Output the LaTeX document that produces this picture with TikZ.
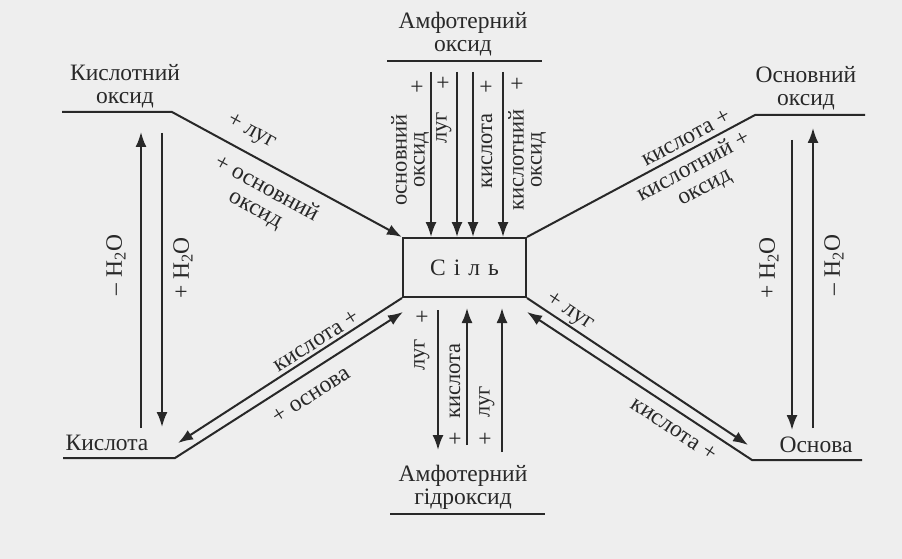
\documentclass[tikz,border=0pt]{standalone}
\usepackage{fontspec}
\setmainfont{Liberation Serif}
\usetikzlibrary{arrows.meta}
\usetikzlibrary{positioning}
\definecolor{ink}{RGB}{40,40,40}
\definecolor{paper}{RGB}{238,238,238}
\tikzset{
  ln/.style={draw=ink,line width=2pt},
  arr/.style={ln,-{Latex[length=15pt,width=11pt]}},
  txt/.style={font=\fontsize{23.5}{23}\selectfont,text=ink,inner sep=0pt,align=center},
  rtxt/.style={txt,font=\fontsize{22.5}{18}\selectfont},
}
\begin{document}
\begin{tikzpicture}[x=1pt,y=-1pt]
\fill[paper] (0,0) rectangle (902,559);
\useasboundingbox (0,0) rectangle (902,559);

% substances
\node[txt] (amfox) at (463,34) {Амфотерний\\оксид};
\node[txt] (kox) at (125,86) {Кислотний\\оксид};
\node[txt] (oox) at (806,88) {Основний\\оксид};
\node[txt] (acid) at (107,443) {Кислота};
\node[txt] (base) at (816,445) {Основа};
\node[txt] (amfhyd) at (463,487) {Амфотерний\\гідроксид};
\node[txt,ln,minimum width=123pt,minimum height=59pt] (salt) at (464.5,267.5) {С\hspace{8pt}і\hspace{8pt}л\hspace{8pt}ь};

% underlines
\coordinate (amfoxL) at (387,61);
\coordinate (amfoxR) at (542,61);
\coordinate (koxL) at (62,112);
\coordinate (koxR) at (172,112);
\coordinate (ooxL) at (755,115);
\coordinate (ooxR) at (865,115);
\coordinate (acidL) at (63,458);
\coordinate (acidR) at (175,458);
\coordinate (baseL) at (752,460);
\coordinate (baseR) at (862,460);
\coordinate (amfhydL) at (390,514);
\coordinate (amfhydR) at (545,514);
\draw[ln] (amfoxL) -- (amfoxR);
\draw[ln] (amfhydL) -- (amfhydR);

% diagonals
\draw[arr] (koxL) -- (koxR) -- (salt.north west);
\draw[ln] (salt.north east) -- (ooxL) -- (ooxR);
\coordinate (acidtip) at (178,443);
\coordinate (saltsw) at (403,312);
\draw[arr] (salt.south west) -- (acidtip);
\draw[arr] (acidL) -- (acidR) -- (saltsw);
\coordinate (basetip) at (748,445);
\coordinate (saltse) at (527,312);
\draw[arr] (salt.south east) -- (basetip);
\draw[arr] (baseR) -- (baseL) -- (saltse);

\node[txt,rotate=-28.6] (tl1) at (251,132) {+ луг};
\node[txt,rotate=-28.6] (tl2) at (261,199) {+ основний\\оксид};
\node[txt,rotate=28.3] (tr1) at (686,138) {кислота +};
\node[txt,rotate=28.3] (tr2) at (699,177) {кислотний +\\оксид};
\node[txt,rotate=32.7] (bl1) at (316,341) {кислота +};
\node[txt,rotate=32.7] (bl2) at (311,395) {+ основа};
\node[txt,rotate=-33.4] (br1) at (570,312) {+ луг};
\node[txt,rotate=-33.4] (br2) at (674,429) {кислота +};

% water
\coordinate (kup0) at (141,428);
\coordinate (kup1) at (141,132);
\coordinate (kdn0) at (162,133);
\coordinate (kdn1) at (162,427);
\draw[arr] (kup0) -- (kup1);
\draw[arr] (kdn0) -- (kdn1);
\node[txt,rotate=90] (kw1) at (116,265) {– H\textsubscript{2}O};
\node[txt,rotate=90] (kw2) at (183,268) {+ H\textsubscript{2}O};

\coordinate (odn0) at (792,140);
\coordinate (odn1) at (792,430);
\coordinate (oup0) at (813,428);
\coordinate (oup1) at (813,128);
\draw[arr] (odn0) -- (odn1);
\draw[arr] (oup0) -- (oup1);
\node[txt,rotate=90] (ow1) at (769,268) {+ H\textsubscript{2}O};
\node[txt,rotate=90] (ow2) at (834,265) {– H\textsubscript{2}O};

% amphoteric oxide -> salt
\coordinate (t1) at (431,72);
\coordinate (t2) at (457,72);
\coordinate (t3) at (473,72);
\coordinate (t4) at (503,72);
\draw[arr] (t1) -- (t1 |- salt.north);
\draw[arr] (t2) -- (t2 |- salt.north);
\draw[arr] (t3) -- (t3 |- salt.north);
\draw[arr] (t4) -- (t4 |- salt.north);
\node[rtxt,rotate=90] (t1l) at (410,160) {основний\\оксид};
\node[rtxt,rotate=90] (t2l) at (444,128) {луг};
\node[rtxt,rotate=90] (t3l) at (487,151) {кислота};
\node[rtxt,rotate=90] (t4l) at (527,160) {кислотний\\оксид};
\node[txt] (t1p) at (417,88) {+};
\node[txt] (t2p) at (443,84) {+};
\node[txt] (t3p) at (486,88) {+};
\node[txt] (t4p) at (517,85) {+};

% salt <-> amphoteric hydroxide
\coordinate (b1s) at (438,310);
\coordinate (b1e) at (438,450);
\coordinate (b2s) at (467,445);
\coordinate (b2e) at (467,308);
\coordinate (b3s) at (502,452);
\coordinate (b3e) at (502,308);
\draw[arr] (b1s) -- (b1e);
\draw[arr] (b2s) -- (b2e);
\draw[arr] (b3s) -- (b3e);
\node[rtxt,rotate=90] (b1l) at (422,355) {луг};
\node[rtxt,rotate=90] (b2l) at (455,381) {кислота};
\node[rtxt,rotate=90] (b3l) at (487,402) {луг};
\node[txt] (b1p) at (422,318) {+};
\node[txt] (b2p) at (455,440) {+};
\node[txt] (b3p) at (485,440) {+};
\end{tikzpicture}
\end{document}
